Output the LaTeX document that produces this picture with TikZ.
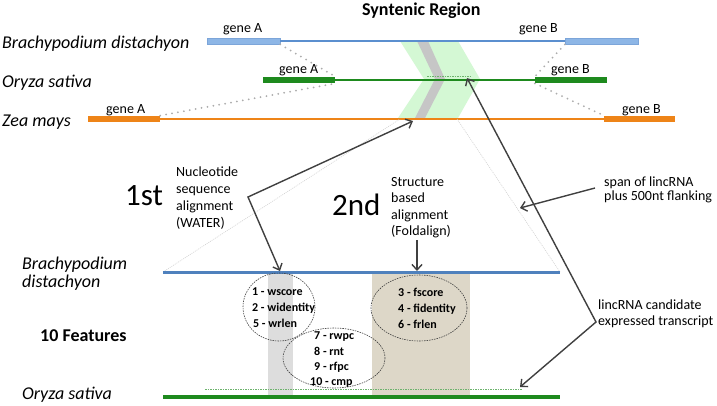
\documentclass[tikz,border=0pt]{standalone}
\usepackage{fontspec}
\setmainfont{Carlito}
\usetikzlibrary{arrows.meta}
\definecolor{topblue}{HTML}{5B8FCF}
\definecolor{boxblue}{HTML}{8DB6E6}
\definecolor{grn}{HTML}{1E8A1E}
\definecolor{org}{HTML}{EE8418}
\definecolor{lowblue}{HTML}{4F81BD}
\definecolor{chevgreen}{HTML}{D4F8D4}
\definecolor{bandgray}{HTML}{C6C6C6}
\definecolor{colgray}{HTML}{DDDDDD}
\definecolor{coltan}{HTML}{DDD7C8}
\definecolor{arrgray}{HTML}{404040}
\tikzset{
  lbl/.style={anchor=base west, inner sep=0pt, font=\fontsize{18}{20}\selectfont\itshape},
  genelbl/.style={anchor=base west, inner sep=0pt, font=\fontsize{14}{16}\selectfont},
  note/.style={anchor=base west, inner sep=0pt, font=\fontsize{14}{16}\selectfont},
  big/.style={anchor=base west, inner sep=0pt, font=\fontsize{31}{34}\selectfont},
  feat/.style={anchor=base west, inner sep=0pt, font=\fontsize{12}{14}\selectfont\bfseries},
  genebox/.style={rectangle, inner sep=0pt, minimum height=6.5pt},
  dotcon/.style={draw=gray!65, line width=2pt, line cap=round, dash pattern=on 0pt off 6pt},
  faint/.style={draw=gray!35, line width=0.6pt, dash pattern=on 1pt off 1pt},
  arrboth/.style={draw=arrgray, line width=1.4pt, {Straight Barb[length=5.5pt,width=10pt]}-{Straight Barb[length=5.5pt,width=10pt]}},
  arr/.style={draw=arrgray, line width=1.4pt, -{Straight Barb[length=5.5pt,width=10pt]}},
  ell/.style={draw=black!75, line width=0.6pt, dash pattern=on 1.5pt off 1pt},
  gdash/.style={draw=grn!65, line width=0.8pt, dash pattern=on 1.5pt off 1pt}
}
\begin{document}
\begin{tikzpicture}[x=1pt,y=-1pt]
\useasboundingbox[fill=white] (0,0) rectangle (717,405);

% chevron (syntenic region highlight)
\fill[chevgreen] (400,41) -- (458,41) -- (480,79) -- (458,118) -- (398,118) -- (424,79) -- cycle;
\fill[bandgray] (417,41) -- (428,41) -- (445,79) -- (425,118) -- (415,118) -- (435,79) -- cycle;

% gene boxes
\node[genebox, minimum width=73pt, fill=boxblue, draw=topblue!80, line width=0.4pt] (bA) at (243.5,41) {};
\node[genebox, minimum width=73pt, fill=boxblue, draw=topblue!80, line width=0.4pt] (bB) at (601.5,41) {};
\node[genebox, minimum width=72pt, fill=grn] (gA) at (299,80) {};
\node[genebox, minimum width=72pt, fill=grn] (gB) at (571,80) {};
\node[genebox, minimum width=72pt, fill=org] (oA) at (124,119) {};
\node[genebox, minimum width=71pt, fill=org] (oB) at (639.5,119) {};

% chromosome lines
\draw[topblue, line width=1.5pt] (bA.east) -- (bB.west);
\draw[grn, line width=1.8pt] (gA.east) -- (gB.west);
\draw[org, line width=1.8pt] (oA.east) -- (oB.west);

% dotted orthology connectors
\draw[dotcon] (bA.south east) -- (gA.north east);
\draw[dotcon] (oA.north east) -- (gA.south east);
\draw[dotcon] (bB.south west) -- (gB.north west);
\draw[dotcon] (gB.south west) -- (oB.north west);

% candidate transcript on Oryza (top)
\draw[gdash] (427,76) coordinate (td1) -- (470,76) coordinate (td2);
\coordinate (tipG) at (467,78);

% labels top
\node[anchor=base west, inner sep=0pt, font=\fontsize{18}{20}\selectfont\bfseries] (title) at (362,15) {Syntenic Region};
\node[lbl] (sp1) at (2,48) {Brachypodium distachyon};
\node[lbl] (sp2) at (2,87) {Oryza sativa};
\node[lbl] (sp3) at (2,126) {Zea mays};
\node[genelbl] (lbA) at (223,32) {gene A};
\node[genelbl] (lbB) at (519,32) {gene B};
\node[genelbl] (lgA) at (279,73) {gene A};
\node[genelbl] (lgB) at (551,73) {gene B};
\node[genelbl] (loA) at (106,113) {gene A};
\node[genelbl] (loB) at (622,113) {gene B};

% lower panel: shaded columns
\fill[colgray] (268,274) rectangle (293,396);
\fill[coltan] (372,274) rectangle (470,396);

% faint span lines
\coordinate (lowBL) at (163,272);
\coordinate (lowBR) at (560,272);
\draw[faint] (lowBL) -- (400,119);
\draw[faint] (457,119) -- (lowBR);

% lower lines
\draw[lowblue, line width=3pt] (lowBL) -- (lowBR);
\coordinate (lowGL) at (163,397);
\coordinate (lowGR) at (560,397);
\draw[grn, line width=3.5pt] (lowGL) -- (lowGR);
\draw[gdash] (205,389.5) coordinate (ld1) -- (522,389.5) coordinate (ld2);

% ellipses
\draw[ell] (279,307) ellipse [x radius=36, y radius=34];
\draw[ell] (334,358) ellipse [x radius=51, y radius=30];
\draw[ell] (419,308) ellipse [x radius=48, y radius=33];

% feature texts
\node[feat] (f1) at (252,295) {1 - wscore};
\node[feat] (f2) at (252,311) {2 - widentity};
\node[feat] (f5) at (253,327) {5 - wrlen};
\node[feat] (f7) at (314,339) {7 - rwpc};
\node[feat] (f8) at (314,355) {8 - rnt};
\node[feat] (f9) at (314,370) {9 - rfpc};
\node[feat] (f10) at (310,385) {10 - cmp};
\node[feat] (f3) at (398,296) {3 - fscore};
\node[feat] (f4) at (398,312) {4 - fidentity};
\node[feat] (f6) at (398,328) {6 - frlen};

% step labels
\node[big] (first) at (125,205) {1st};
\node[note] (n1) at (176,176.5) {Nucleotide};
\node[note] (n2) at (176,193.5) {sequence};
\node[note] (n3) at (176,210.5) {alignment};
\node[note] (n4) at (176,227) {(WATER)};
\node[big] (second) at (332,215) {2nd};
\node[note] (s1) at (391,186) {Structure};
\node[note] (s2) at (391,202.5) {based};
\node[note] (s3) at (391,219) {alignment};
\node[note] (s4) at (391,235) {(Foldalign)};
\node[note] (sp) at (604,186) {span of lincRNA};
\node[note] (sp2b) at (604,200) {plus 500nt flanking};
\node[note] (lc1) at (598,309) {lincRNA candidate};
\node[note] (lc2) at (598,325) {expressed transcript};

\node[lbl] (lb1) at (22,269) {Brachypodium};
\node[lbl] (lb2) at (22,287) {distachyon};
\node[anchor=base west, inner sep=0pt, font=\fontsize{18}{20}\selectfont\bfseries] (tenf) at (40,341) {10 Features};
\node[lbl] (lo1) at (22,399) {Oryza sativa};

% arrows
\coordinate (bend1) at (248,197);
\coordinate (tipO) at (413,121);
\coordinate (tipB1) at (280,271);
\draw[arrboth] (tipO) -- (bend1) -- (tipB1);
\coordinate (bend2) at (596,322);
\coordinate (tipL) at (520,387);
\draw[arrboth] (tipG) -- (bend2) -- (tipL);
\coordinate (spanstart) at (595,188);
\coordinate (spantip) at (520,208);
\draw[arr] (spanstart) -- (spantip);
\coordinate (foldtop) at (417,240);
\coordinate (foldtip) at (417,271);
\draw[arr] (foldtop) -- (foldtip);
\end{tikzpicture}
\end{document}
